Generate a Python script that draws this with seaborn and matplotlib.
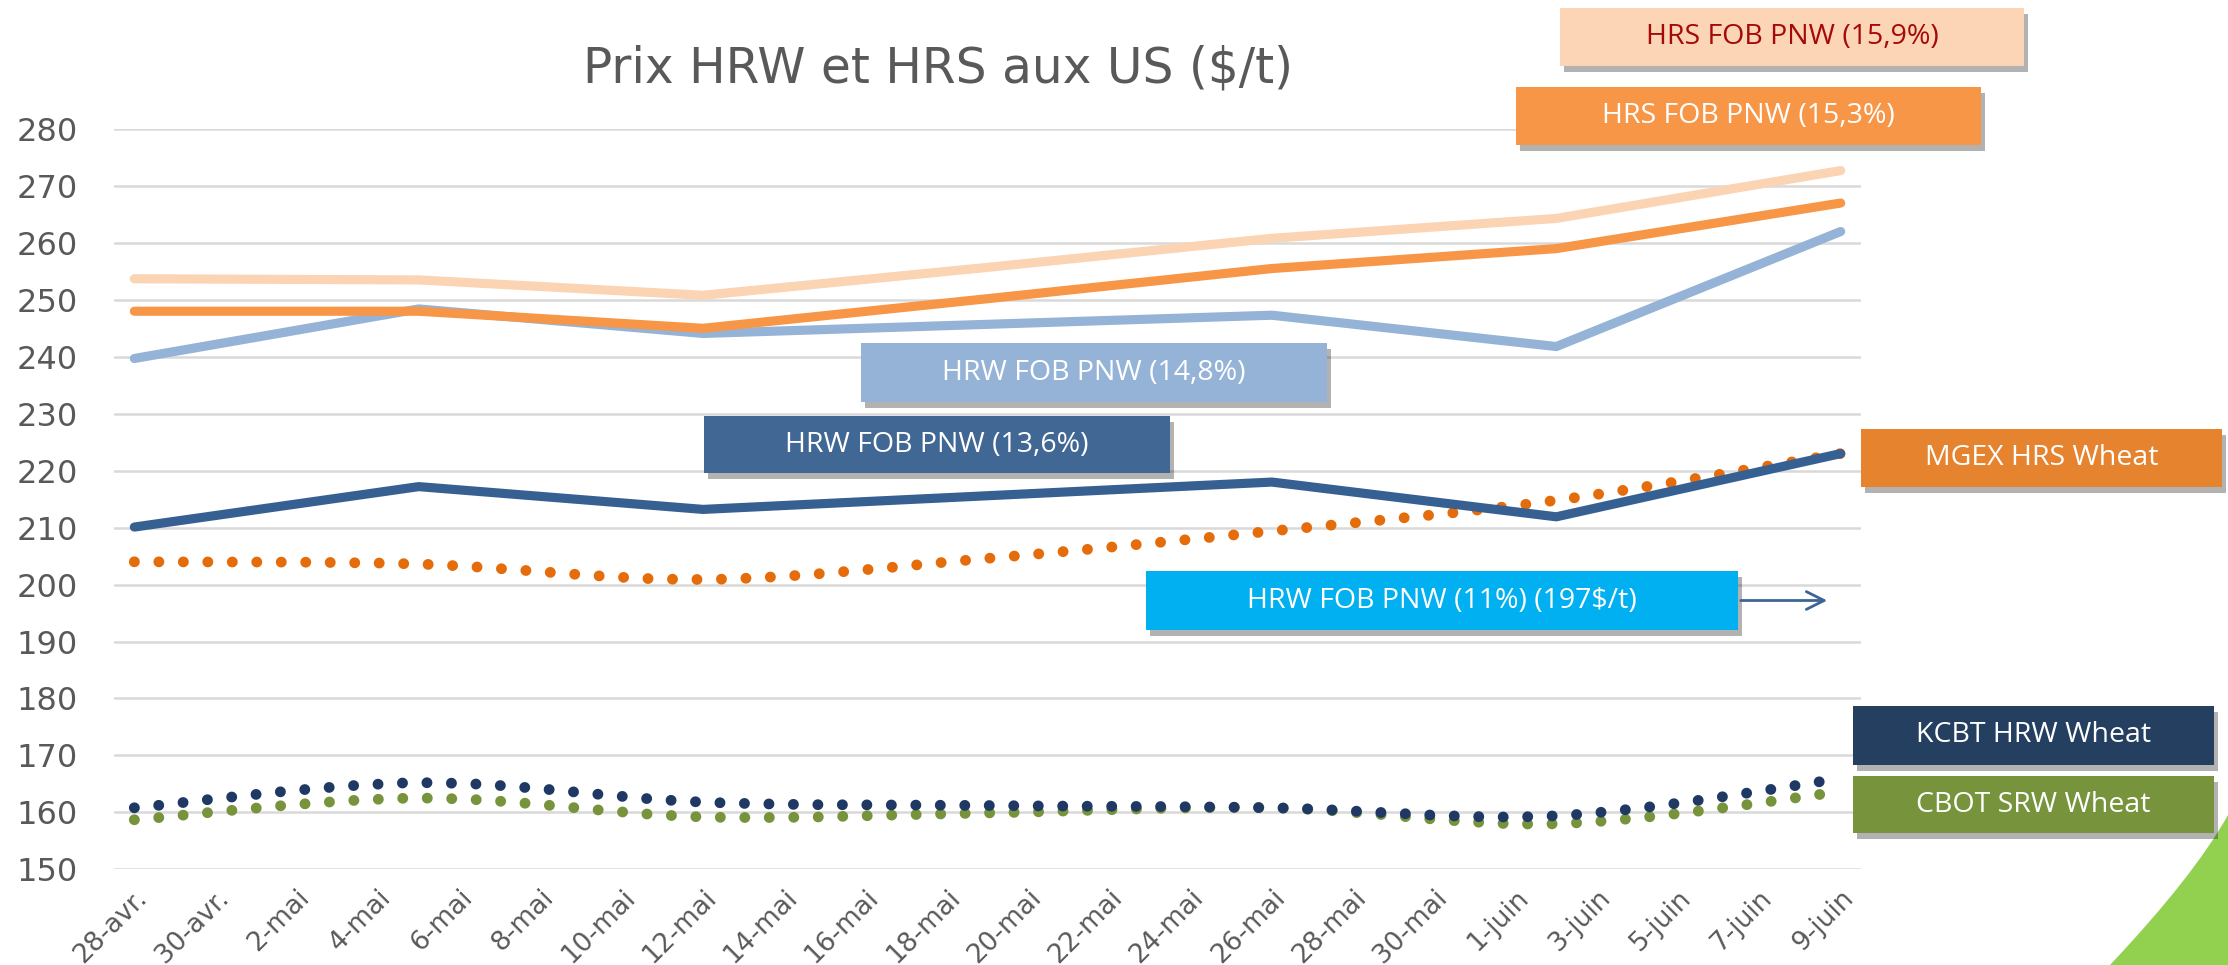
import numpy as np
import pandas as pd
import seaborn as sns
import matplotlib.pyplot as plt
import matplotlib.patheffects as pe
from matplotlib.path import Path
from matplotlib.patches import PathPatch, Rectangle, FancyArrowPatch

# weekly prices ($/t), 28-avr. -> 9-juin
week_labels = ['28-avr.', '5-mai', '12-mai', '19-mai', '26-mai', '2-juin', '9-juin']
week_days = [0, 7, 14, 21, 28, 35, 42]

hrs_159 = [253.7, 253.5, 250.8, 255.7, 260.8, 264.3, 272.7]
hrs_153 = [248.0, 248.0, 245.0, 250.2, 255.5, 259.0, 267.0]
hrw_148 = [239.7, 248.4, 244.1, 245.7, 247.3, 241.8, 262.0]
hrw_136 = [210.1, 217.2, 213.2, 215.6, 218.0, 211.9, 223.0]
mgex_hrs = [204.0, 203.6, 200.9, 204.6, 209.4, 214.8, 223.0]
kcbt_hrw = [160.8, 165.2, 161.8, 161.2, 160.8, 159.4, 165.9]
cbot_srw = [158.7, 162.5, 159.2, 159.9, 160.8, 158.0, 163.6]

tick_labels = ['28-avr.', '30-avr.', '2-mai', '4-mai', '6-mai', '8-mai', '10-mai',
               '12-mai', '14-mai', '16-mai', '18-mai', '20-mai', '22-mai', '24-mai',
               '26-mai', '28-mai', '30-mai', '1-juin', '3-juin', '5-juin', '7-juin',
               '9-juin']
tick_days = list(range(0, 43, 2))

W, H = 2228, 965


def fx(px):
    return px / W


def fy(py):
    return 1 - py / H


def smooth_path(x, y):
    # excel-like smoothed line (catmull-rom as bezier segments)
    pts = np.column_stack([x, y]).astype(float)
    n = len(pts)
    verts = [pts[0]]
    codes = [Path.MOVETO]
    for i in range(n - 1):
        p0 = pts[max(i - 1, 0)]
        p1 = pts[i]
        p2 = pts[i + 1]
        p3 = pts[min(i + 2, n - 1)]
        verts += [p1 + (p2 - p0) / 6, p2 - (p3 - p1) / 6, p2]
        codes += [Path.CURVE4] * 3
    return Path(verts, codes)


sns.set_style('white')
plt.rcParams['font.family'] = ['DejaVu Sans']

fig = plt.figure(figsize=(W / 100, H / 100), dpi=100)
ax = fig.add_axes([fx(114), fy(869.3), fx(1861) - fx(114), fy(129) - fy(869.3)])

# dotted (smoothed) futures series
for vals, col in [(cbot_srw, '#77933C'), (kcbt_hrw, '#1F3864'), (mgex_hrs, '#E46C0A')]:
    patch = PathPatch(smooth_path(week_days, vals), fill=False, edgecolor=col,
                      linewidth=7.8, linestyle=(0, (0.01, 2.25)))
    patch.set_capstyle('round')
    ax.add_patch(patch)

# solid FOB series
for vals, col in [(hrw_148, '#95B3D7'), (hrw_136, '#376092'),
                  (hrs_153, '#F79646'), (hrs_159, '#FBD4B4')]:
    sns.lineplot(x=week_days, y=vals, ax=ax, color=col, linewidth=6.6,
                 solid_capstyle='round', solid_joinstyle='round')

ax.set_xlim(-0.5, 42.5)
ax.set_ylim(150, 280)
ax.set_yticks(range(150, 281, 10))
ax.set_xticks(tick_days)
ax.set_xticklabels(tick_labels, rotation=45, ha='right', va='top',
                   rotation_mode='anchor')
ax.tick_params(axis='both', length=0, labelcolor='#595959')
ax.tick_params(axis='y', pad=26, labelsize=23)
ax.tick_params(axis='x', pad=11, labelsize=19)
ax.yaxis.grid(True, color='#D9D9D9', linewidth=1.8)
ax.set_axisbelow(True)
for s in ax.spines.values():
    s.set_visible(False)
ax.set_xlabel('')
ax.set_ylabel('')

fig.text(fx(938), fy(82), 'Prix HRW et HRS aux US ($/t)', ha='center', va='baseline',
         fontsize=35, color='#595959')

# label boxes
boxes = [
    ('HRS FOB PNW (15,9%)', (1560, 8, 2024, 66), '#FBD5B5', '#A50A0A'),
    ('HRS FOB PNW (15,3%)', (1516, 87, 1981, 145), '#F79646', 'white'),
    ('HRW FOB PNW (14,8%)', (861, 343, 1327, 402), '#95B3D7', 'white'),
    ('HRW FOB PNW (13,6%)', (704, 416, 1170, 473), '#416794', 'white'),
    ('MGEX HRS Wheat', (1861, 429, 2222, 487), '#E6832F', 'white'),
    ('HRW FOB PNW (11%) (197$/t)', (1146, 571, 1738, 630), '#00B0F0', 'white'),
    ('KCBT HRW Wheat', (1853, 706, 2214, 765), '#243F60', 'white'),
    ('CBOT SRW Wheat', (1853, 776, 2214, 833), '#77933C', 'white'),
]
shadow = [pe.SimplePatchShadow(offset=(3, -4), shadow_rgbFace='#000000', alpha=0.3),
          pe.Normal()]
for text, (x0, y0, x1, y1), face, tc in boxes:
    rect = Rectangle((fx(x0), fy(y1)), fx(x1) - fx(x0), fy(y0) - fy(y1),
                     transform=fig.transFigure, facecolor=face, edgecolor='none',
                     zorder=5, path_effects=shadow)
    fig.add_artist(rect)
    fig.text(fx((x0 + x1) / 2), fy((y0 + y1) / 2), text, ha='center', va='center',
             fontsize=20.5, color=tc, family=['Open Sans', 'DejaVu Sans'], zorder=6)

arrow = FancyArrowPatch((fx(1738), fy(600.5)), (fx(1830), fy(600.5)),
                        transform=fig.transFigure, arrowstyle='->', mutation_scale=32,
                        color='#3C6496', linewidth=2, zorder=5)
fig.add_artist(arrow)

# green corner decoration
corner = Path([(fx(2228), fy(815)), (fx(2194), fy(876)), (fx(2110), fy(965)),
               (fx(2228), fy(965)), (fx(2228), fy(815))],
              [Path.MOVETO, Path.CURVE3, Path.CURVE3, Path.LINETO, Path.CLOSEPOLY])
fig.add_artist(PathPatch(corner, transform=fig.transFigure, facecolor='#92D050',
                         edgecolor='none', zorder=4))

fig.savefig('out.png', dpi=100)
